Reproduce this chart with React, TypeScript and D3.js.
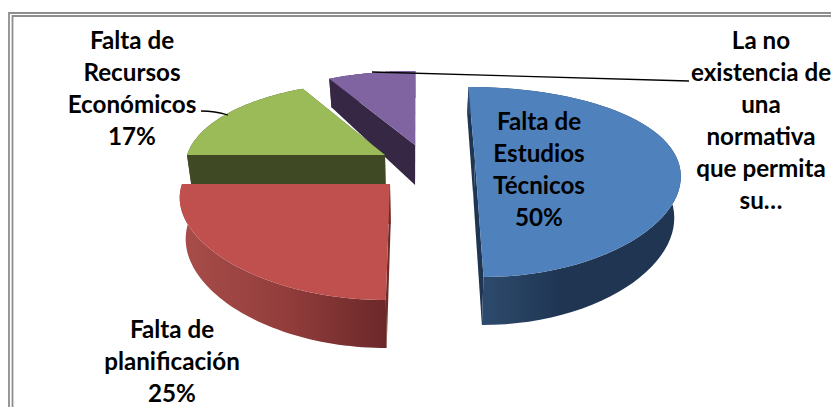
import React from "react";
import * as d3 from "d3";

const categories = ["Falta de Estudios Técnicos", "Falta de planificación", "Falta de Recursos Económicos", "La no existencia de una normativa que permita su…"];
const values = [50, 25, 17, 8];
const topColors = ["#4f81bd", "#c0504d", "#9bbb59", "#8064a2"];
const labelLines = [
  ["Falta de", "Estudios", "Técnicos", "50%"],
  ["Falta de", "planificación", "25%"],
  ["Falta de", "Recursos", "Económicos", "17%"],
  ["La no", "existencia de", "una", "normativa", "que permita", "su…"],
];
const labelX = [539, 172, 132, 761];
const labelY = [130, 338, 49, 49];
const sliceCx = [475, 390, 385, 415];
const sliceCy = [161, 184, 155, 145];
const sliceR = [203, 208, 198, 199];

const VX = 418, QX = 0.13, QY = 0.221, AY = 90.4, SHRINK = 0.025;
const W = 831, H = 407;

type P = [number, number];
const proj = (i: number, u: number, v: number): P => [
  VX + (sliceCx[i] - VX + sliceR[i] * u) / (1 - QX * v),
  sliceCy[i] + (AY * v) / (1 - QY * v),
];
const depth = (v: number) => (v >= 0 ? 40 + 8 * v : 40 + 13 * v);
const drop = (p: P, v: number): P => [p[0] + (VX - p[0]) * SHRINK, p[1] + depth(v)];

const arcs = d3.pie<number>().sort(null)(values);
const toPath = d3.line();

function slicePaths(i: number) {
  const a0 = arcs[i].startAngle, a1 = arcs[i].endAngle;
  const steps = d3.range(0, 61).map((k) => a0 + ((a1 - a0) * k) / 60);
  const uv = steps.map((a) => [Math.sin(a), -Math.cos(a)] as P);
  const rim = uv.map(([u, v]) => proj(i, u, v));
  const low = uv.map(([, v], k) => drop(rim[k], v));
  const apex = proj(i, 0, 0);
  const apexLow = drop(apex, 0);
  const top = toPath([apex, ...rim])! + "Z";
  const outer = toPath([...rim, ...low.slice().reverse()])! + "Z";
  const startFace = toPath([apex, rim[0], low[0], apexLow])! + "Z";
  const endFace = toPath([apex, rim[60], low[60], apexLow])! + "Z";
  return { top, outer, startFace, endFace };
}

const flat = ["#1f3552", "#6f2b2a", "#3f4a24", "#362845"];

export default function App() {
  const order = [3, 2, 1, 0];
  return (
    <svg width={W} height={H} style={{ position: "fixed", left: 0, top: 0, background: "#fff" }}
      fontFamily="Lato, 'Open Sans', sans-serif" fontWeight={700} fontSize={24.2}>
      <defs>
        <linearGradient id="sideBlue" gradientUnits="userSpaceOnUse" x1={485} x2={680} y1={0} y2={0}>
          <stop offset="0" stopColor="#2d4a6c" />
          <stop offset="0.4" stopColor="#1f3552" />
          <stop offset="1" stopColor="#1f3552" />
        </linearGradient>
        <linearGradient id="sideRed" gradientUnits="userSpaceOnUse" x1={180} x2={385} y1={0} y2={0}>
          <stop offset="0" stopColor="#a84d4a" />
          <stop offset="0.5" stopColor="#933e3c" />
          <stop offset="1" stopColor="#6c2829" />
        </linearGradient>
      </defs>
      <g fill="none" stroke="#8e8e8e" strokeWidth={1.8}>
        <path d="M9 407V13H831" />
        <path d="M12.5 407V16H831" />
      </g>
      {order.map((i) => {
        const p = slicePaths(i);
        const side = i === 0 ? "url(#sideBlue)" : i === 1 ? "url(#sideRed)" : flat[i];
        return (
          <g key={categories[i]}>
            <path d={p.endFace} fill={flat[i]} />
            <path d={p.startFace} fill={flat[i]} />
            <path d={p.outer} fill={side} />
            <path d={p.top} fill={topColors[i]} />
          </g>
        );
      })}
      <path d="M372 72L689 81" stroke="#000" strokeWidth={1.3} fill="none" />
      <path d="M201 111Q215 111 228 115" stroke="#000" strokeWidth={1.3} fill="none" />
      {labelLines.map((lines, i) => (
        <text key={i} textAnchor="middle" fill="#000">
          {lines.map((t, j) => (
            <tspan key={j} x={labelX[i]} y={labelY[i] + j * 32}>{t}</tspan>
          ))}
        </text>
      ))}
    </svg>
  );
}
